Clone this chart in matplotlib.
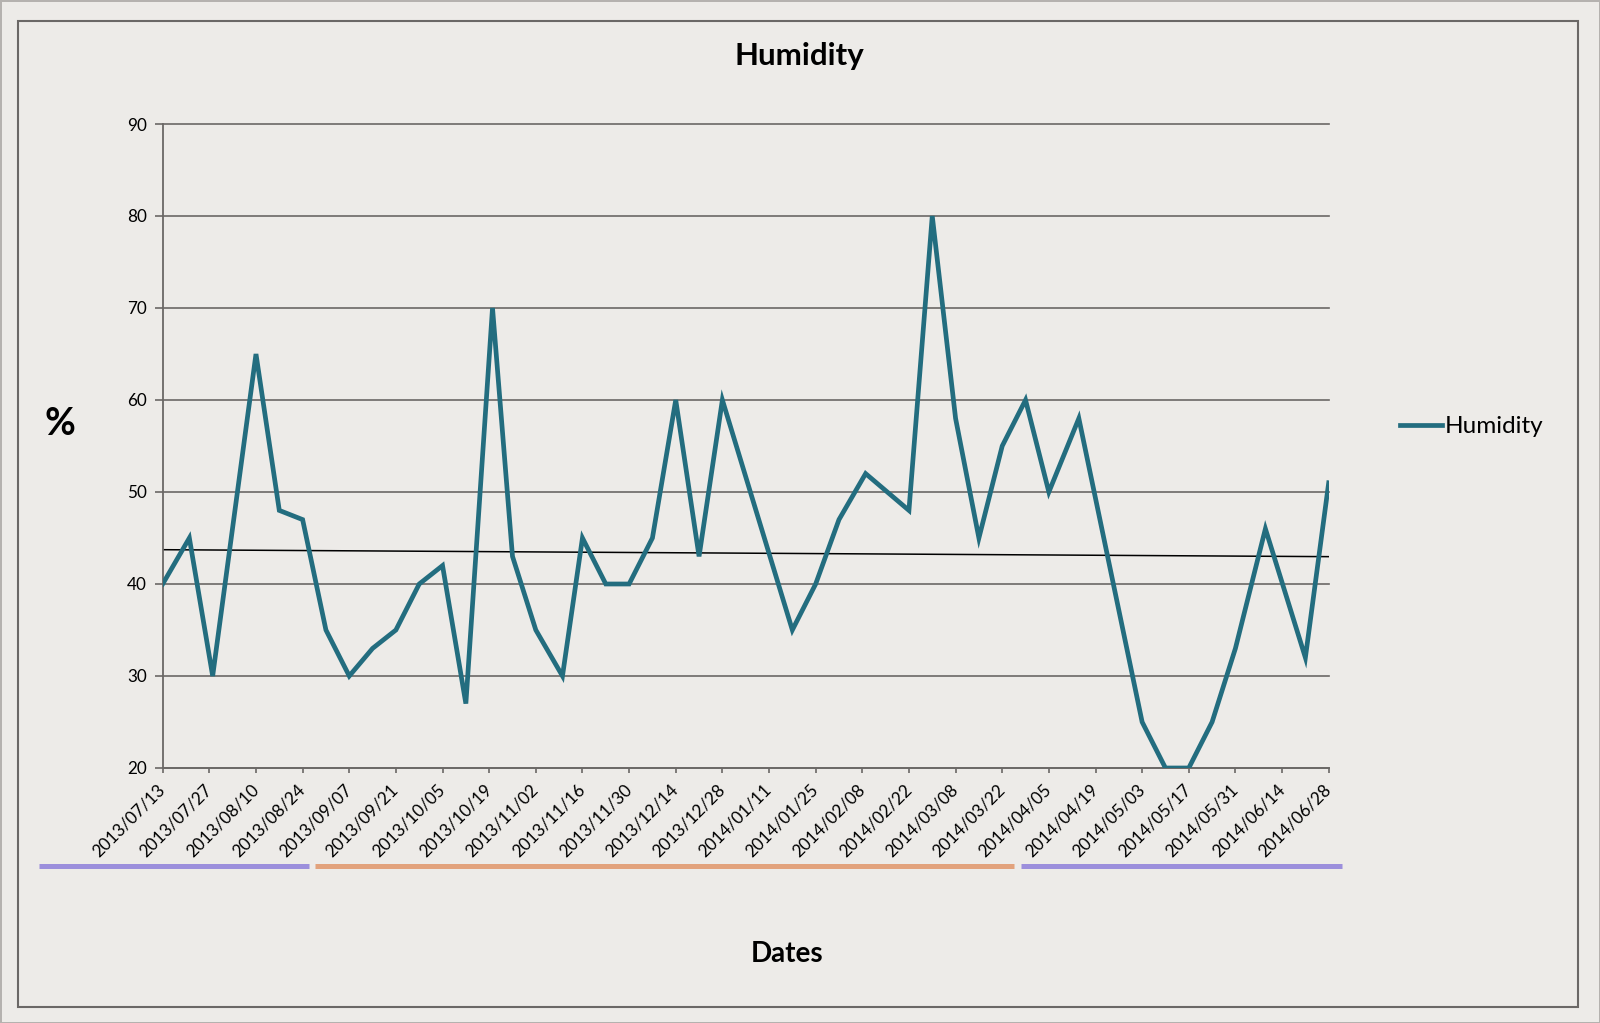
import numpy as np
import pandas as pd
import matplotlib
matplotlib.use("Agg")
import matplotlib.pyplot as plt
import matplotlib.dates as mdates
from matplotlib.lines import Line2D
from matplotlib.patches import Rectangle

plt.rcParams['font.family'] = ['Lato', 'DejaVu Sans']

# mesures (dates irrégulières, quelques semaines manquantes)
dates = ["2013/07/13", "2013/07/21", "2013/07/28", "2013/08/10", "2013/08/17",
         "2013/08/24", "2013/08/31", "2013/09/07", "2013/09/14", "2013/09/21",
         "2013/09/28", "2013/10/05", "2013/10/12", "2013/10/20", "2013/10/26",
         "2013/11/02", "2013/11/10", "2013/11/16", "2013/11/23", "2013/11/30",
         "2013/12/07", "2013/12/14", "2013/12/21", "2013/12/28", "2014/01/18",
         "2014/01/25", "2014/02/01", "2014/02/09", "2014/02/22", "2014/03/01",
         "2014/03/08", "2014/03/15", "2014/03/22", "2014/03/29", "2014/04/05",
         "2014/04/14", "2014/05/03", "2014/05/10", "2014/05/17", "2014/05/24",
         "2014/05/31", "2014/06/09", "2014/06/21", "2014/06/28"]
humidity = [40, 45, 30, 65, 48, 47, 35, 30, 33, 35,
            40, 42, 27, 70, 43, 35, 30, 45, 40, 40,
            45, 60, 43, 60, 35, 40, 47, 52, 48, 80,
            58, 45, 55, 60, 50, 58, 25, 20, 20, 25,
            33, 46, 32, 51]

tick_labels = ["2013/07/13", "2013/07/27", "2013/08/10", "2013/08/24", "2013/09/07",
               "2013/09/21", "2013/10/05", "2013/10/19", "2013/11/02", "2013/11/16",
               "2013/11/30", "2013/12/14", "2013/12/28", "2014/01/11", "2014/01/25",
               "2014/02/08", "2014/02/22", "2014/03/08", "2014/03/22", "2014/04/05",
               "2014/04/19", "2014/05/03", "2014/05/17", "2014/05/31", "2014/06/14",
               "2014/06/28"]
y_ticks = [20, 30, 40, 50, 60, 70, 80, 90]

W, H = 1600, 1023
bg = '#edebe8'
grid_col = '#6b6866'
line_col = '#236d7f'

x = pd.to_datetime(dates, format="%Y/%m/%d")
xt = pd.to_datetime(tick_labels, format="%Y/%m/%d")
xnum = mdates.date2num(x)

fig = plt.figure(figsize=(W / 100, H / 100), dpi=100)
fig.patch.set_facecolor(bg)
fig.patch.set_edgecolor('#b5b2af')
fig.patch.set_linewidth(2)

ax = fig.add_axes([162.7 / W, 1 - 768 / H, 1166 / W, 644 / H])
ax.set_facecolor(bg)

ax.plot(x, humidity, color=line_col, lw=3.4, solid_joinstyle='miter', label='Humidity', zorder=3)

# courbe de tendance linéaire (comme Excel)
a, b = np.polyfit(xnum, humidity, 1)
xl = np.array([xnum[0], xnum[-1]])
ax.plot(mdates.num2date(xl), a * xl + b, color='black', lw=1.1, zorder=2)

ax.set_xlim(x[0], x[-1])
ax.set_ylim(20, 90)
ax.set_yticks(y_ticks)
ax.set_xticks(xt)
ax.set_xticklabels(tick_labels, rotation=45, ha='right', va='center', rotation_mode='anchor')

ax.yaxis.grid(True, color=grid_col, lw=1.2)
for gl in ax.get_ygridlines():
    gl.set_clip_on(False)
ax.set_axisbelow(True)

for s in ['top', 'right']:
    ax.spines[s].set_visible(False)
for s in ['left', 'bottom']:
    ax.spines[s].set_color(grid_col)
    ax.spines[s].set_linewidth(1.3)

ax.tick_params(axis='y', direction='out', length=5.5, width=1.2, color=grid_col,
               labelsize=12.3, pad=6)
ax.tick_params(axis='x', direction='out', length=3.6, width=1.2, color=grid_col,
               labelsize=12.3, pad=10)

ax.legend(loc='center left', bbox_to_anchor=(1400 / W, 1 - 426.7 / H),
          bbox_transform=fig.transFigure, frameon=False, fontsize=17.5,
          borderpad=0, borderaxespad=0, handlelength=1.72, handletextpad=0.14)

fig.text(799 / W, 1 - 56 / H, "Humidity", fontsize=22.5, fontweight='bold',
         ha='center', va='center')
fig.text(60.3 / W, 1 - 424 / H, "%", fontsize=27, fontweight='bold',
         ha='center', va='center')
fig.text(787.5 / W, 1 - 954 / H, "Dates", fontsize=20, fontweight='bold',
         ha='center', va='center')

# bandes de saison sous l'axe
yb = 1 - 865.5 / H
for x0, x1, c in [(38.5, 308.5, '#9c8fdc'), (314.6, 1014, '#e2a27c'), (1021, 1341.7, '#9c8fdc')]:
    fig.add_artist(Line2D([x0 / W, x1 / W], [yb, yb], transform=fig.transFigure,
                          color=c, lw=3.6, solid_capstyle='butt'))

# cadre
fig.add_artist(Rectangle((18.3 / W, 1 - 1007.3 / H), (1578.3 - 18.3) / W, (1007.3 - 20.7) / H,
                         transform=fig.transFigure, fill=False, edgecolor=grid_col, lw=1.5))

fig.savefig("out.png", dpi=100, facecolor=fig.get_facecolor(), edgecolor=fig.get_edgecolor())
